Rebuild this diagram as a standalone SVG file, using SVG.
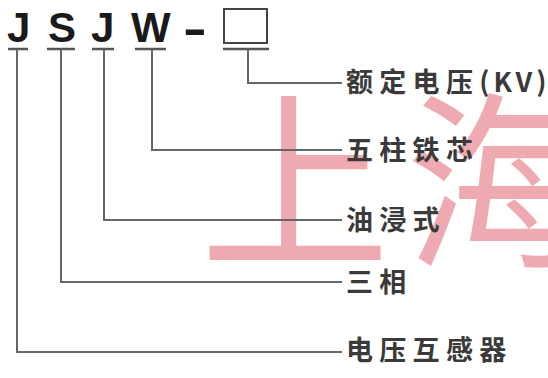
<svg xmlns="http://www.w3.org/2000/svg" width="548" height="378" viewBox="0 0 548 378">
<style>
.wm{font-family:"Noto Sans CJK SC","Noto Sans",sans-serif;font-size:190px;fill:#eeaab0}
.code{font-family:"Liberation Sans",Arial,sans-serif;font-weight:bold;font-size:42px;fill:#1a1a1a}
.lbl{font-family:"Noto Sans CJK SC","Noto Sans",sans-serif;font-weight:bold;font-size:27px;fill:#3a3a3a;letter-spacing:6.3px}
.bar{stroke:#555;stroke-width:2.5;fill:none}
.ln{stroke:#666;stroke-width:2;fill:none}
</style>
<rect width="548" height="378" fill="#ffffff"/>
<g id="watermark">
<text class="wm" x="200" y="253">上</text>
<text class="wm" x="405" y="253">海</text>
</g>
<g id="code">
<text class="code" x="7" y="42">J</text>
<text class="code" x="48" y="42">S</text>
<text class="code" x="91" y="42">J</text>
<text class="code" x="131" y="42">W</text>
<text class="code" transform="translate(183,44) scale(1.7,1.1)">-</text>
<rect x="224" y="9" width="43" height="34" fill="none" stroke="#444" stroke-width="2"/>
<line class="bar" x1="8" y1="49" x2="28" y2="49"/>
<line class="bar" x1="47" y1="49" x2="75" y2="49"/>
<line class="bar" x1="92" y1="49" x2="114" y2="49"/>
<line class="bar" x1="135" y1="49" x2="166" y2="49"/>
<line class="bar" x1="223" y1="49" x2="269" y2="49"/>
</g>
<g id="connectors">
<polyline class="ln" points="248,49 248,83 342,83"/>
<polyline class="ln" points="152,49 152,150 342,150"/>
<polyline class="ln" points="104,49 104,220 342,220"/>
<polyline class="ln" points="61,49 61,282 342,282"/>
<polyline class="ln" points="17,49 17,352 342,352"/>
</g>
<g id="n-rated"><text class="lbl" x="346" y="92">额定电压<tspan style="letter-spacing:4px">(KV)</tspan></text></g>
<g id="n-core"><text class="lbl" x="346" y="160">五柱铁芯</text></g>
<g id="n-oil"><text class="lbl" x="346" y="230">油浸式</text></g>
<g id="n-phase"><text class="lbl" x="346" y="292">三相</text></g>
<g id="n-pt"><text class="lbl" x="346" y="360">电压互感器</text></g>
</svg>
